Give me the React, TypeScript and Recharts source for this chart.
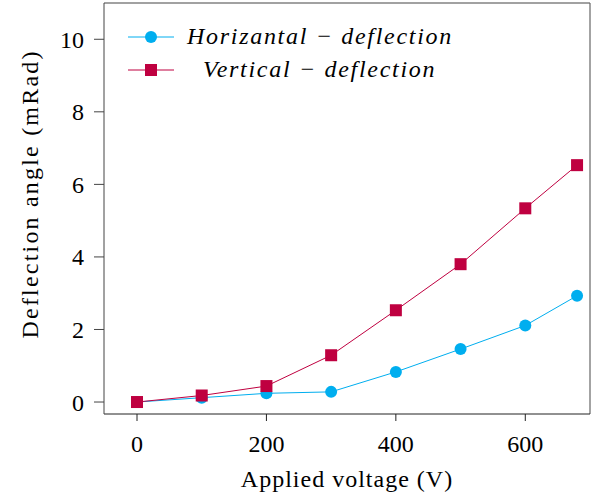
import { LineChart, Line, XAxis, YAxis, ReferenceLine } from 'recharts';

const voltages = [0, 100, 200, 300, 400, 500, 600, 680];
const horizontal = [0, 0.12, 0.24, 0.28, 0.83, 1.46, 2.11, 2.93];
const vertical = [0, 0.18, 0.44, 1.29, 2.53, 3.8, 5.34, 6.53];
const xTicks = [0, 200, 400, 600];
const yTicks = [0, 2, 4, 6, 8, 10];

const BLUE = '#00aeef';
const RED = '#bf0040';
const FONT = 'Liberation Serif';

const data = voltages.map((v, i) => ({ v, h: horizontal[i], vt: vertical[i] }));

function Circle(props: any) {
    const { cx, cy, key } = props;
    return <circle key={key} cx={cx} cy={cy} r={6} fill={BLUE} />;
}

function Square(props: any) {
    const { cx, cy, key } = props;
    return <rect key={key} x={cx - 6} y={cy - 6} width={12} height={12} fill={RED} />;
}

function LegendBox() {
    const rows = [
        { label: 'Horizantal − deflection', color: BLUE, square: false, pad: 0 },
        { label: 'Vertical − deflection', color: RED, square: true, pad: 16 },
    ];
    return (
        <div style={{ position: 'absolute', left: 128, top: 20, fontFamily: FONT, fontStyle: 'italic', fontSize: 24 }}>
            {rows.map((r) => (
                <div key={r.label} style={{ display: 'flex', alignItems: 'center', height: 33 }}>
                    <svg width={46} height={20}>
                        <line x1={0} y1={10} x2={46} y2={10} stroke={r.color} strokeWidth={1} />
                        {r.square ? (
                            <rect x={17} y={4} width={12} height={12} fill={r.color} />
                        ) : (
                            <circle cx={23} cy={10} r={6} fill={r.color} />
                        )}
                    </svg>
                    <span style={{ marginLeft: 13 + r.pad, letterSpacing: 1.7, whiteSpace: 'pre' }}>{r.label}</span>
                </div>
            ))}
        </div>
    );
}

export default function App() {
    return (
        <div style={{ position: 'fixed', left: 0, top: 0, width: 594, height: 499, background: '#fff' }}>
            <LineChart
                width={594}
                height={499}
                data={data}
                margin={{ top: 3, right: 4, bottom: 0, left: 0 }}
            >
                <XAxis
                    dataKey="v"
                    type="number"
                    domain={[-51, 700]}
                    ticks={xTicks}
                    height={85}
                    tickSize={7}
                    tickMargin={14}
                    stroke="#222"
                    tick={{ fill: '#000', fontSize: 24, fontFamily: FONT }}
                    label={{ value: 'Applied voltage (V)', position: 'insideBottom', offset: 12, fill: '#000', fontSize: 24, fontFamily: FONT, letterSpacing: 1 }}
                />
                <YAxis
                    type="number"
                    domain={[-0.33, 11]}
                    ticks={yTicks}
                    width={104}
                    tickSize={10}
                    tickMargin={10}
                    stroke="#444"
                    tick={{ fill: '#000', fontSize: 24, fontFamily: FONT }}
                    label={{ value: 'Deflection angle (mRad)', angle: -90, position: 'insideLeft', offset: 29, dy: 130, fill: '#000', fontSize: 24, fontFamily: FONT, letterSpacing: 2.2 }}
                />
                <ReferenceLine y={11} stroke="#444" strokeWidth={1.2} />
                <ReferenceLine x={700} stroke="#666" strokeWidth={1.2} />
                <Line
                    dataKey="h"
                    stroke={BLUE}
                    strokeWidth={1}
                    dot={Circle}
                    isAnimationActive={false}
                />
                <Line
                    dataKey="vt"
                    stroke={RED}
                    strokeWidth={1}
                    dot={Square}
                    isAnimationActive={false}
                />
            </LineChart>
            <LegendBox />
        </div>
    );
}
